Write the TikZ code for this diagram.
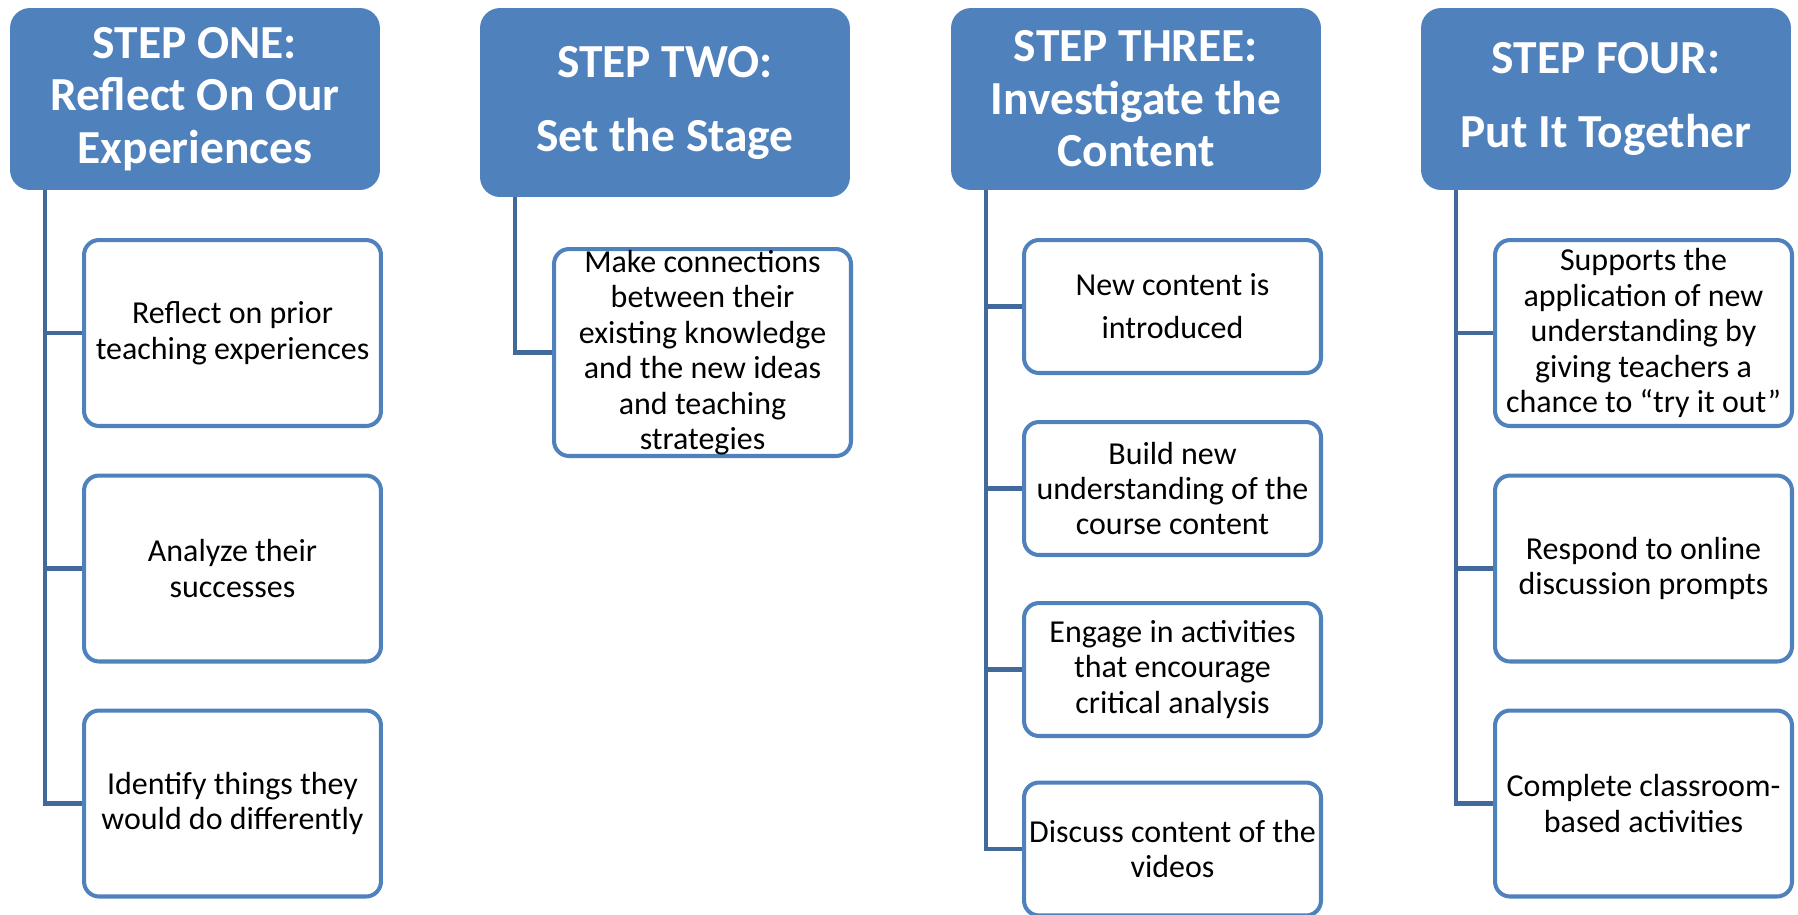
\documentclass[tikz,border=0pt]{standalone}
\usepackage{fontspec}
\setmainfont{Carlito}
\usetikzlibrary{positioning}
\definecolor{stepblue}{HTML}{4F81BD}
\definecolor{linkblue}{HTML}{41699B}
\tikzset{
  header/.style={rectangle,rounded corners=0.4cm,fill=stepblue,text=white,
    font=\fontsize{27}{29.9}\selectfont\bfseries,align=center,
    minimum width=7.4cm,minimum height=3.64cm,inner sep=0pt},
  item/.style={rectangle,rounded corners=0.3cm,draw=stepblue,line width=2.3pt,
    fill=white,font=\fontsize{18.2}{20.2}\selectfont,align=center,
    minimum width=5.94cm,minimum height=3.72cm,inner sep=0pt},
  short/.style={minimum height=2.66cm},
  link/.style={draw=linkblue,line width=2.4pt}
}
\begin{document}
\begin{tikzpicture}[x=0.02cm,y=-0.02cm]
  \useasboundingbox (0,0) rectangle (1798,914);
  % column headers
  \node[header] (h1) at (195,99) {STEP ONE:\\Reflect On Our\\Experiences};
  \node[header,minimum height=3.78cm] (h2) at (665,102.5) {STEP TWO:\\[0.43cm]Set the Stage};
  \node[header] (h3) at (1136,99) {STEP THREE:\\Investigate the\\Content};
  \node[header] (h4) at (1606,99) {STEP FOUR:\\[0.43cm]Put It Together};
  % step one
  \node[item] (c11) at (232.5,333) {Reflect on prior\\teaching experiences};
  \node[item] (c12) at (232.5,568.5) {Analyze their\\successes};
  \node[item] (c13) at (232.5,803.5) {Identify things they\\would do differently};
  % step two
  \node[item,minimum height=4.14cm] (c21) at (702.5,352.5)
    {Make connections\\between their\\existing knowledge\\and the new ideas\\and teaching\\strategies};
  % step three
  \node[item,short] (c31) at (1172.5,306.5) {New content is\\[0.15cm]introduced};
  \node[item,short] (c32) at (1172.5,488.5) {Build new\\understanding of the\\course content};
  \node[item,short] (c33) at (1172.5,669.5) {Engage in activities\\that encourage\\critical analysis};
  \node[item,short] (c34) at (1172.5,849) {Discuss content of the\\videos};
  % step four
  \node[item] (c41) at (1643.5,333)
    {Supports the\\application of new\\understanding by\\giving teachers a\\chance to “try it out”};
  \node[item] (c42) at (1643.5,568.5) {Respond to online\\discussion prompts};
  \node[item] (c43) at (1643.5,803.5) {Complete classroom-\\based activities};
  % connectors
  \foreach \h/\c in {h1/c11,h1/c12,h1/c13,h2/c21,h3/c31,h3/c32,h3/c33,h3/c34,h4/c41,h4/c42,h4/c43}
    \draw[link] ([xshift=0.7cm]\h.south west) |- (\c.west);
\end{tikzpicture}
\end{document}
